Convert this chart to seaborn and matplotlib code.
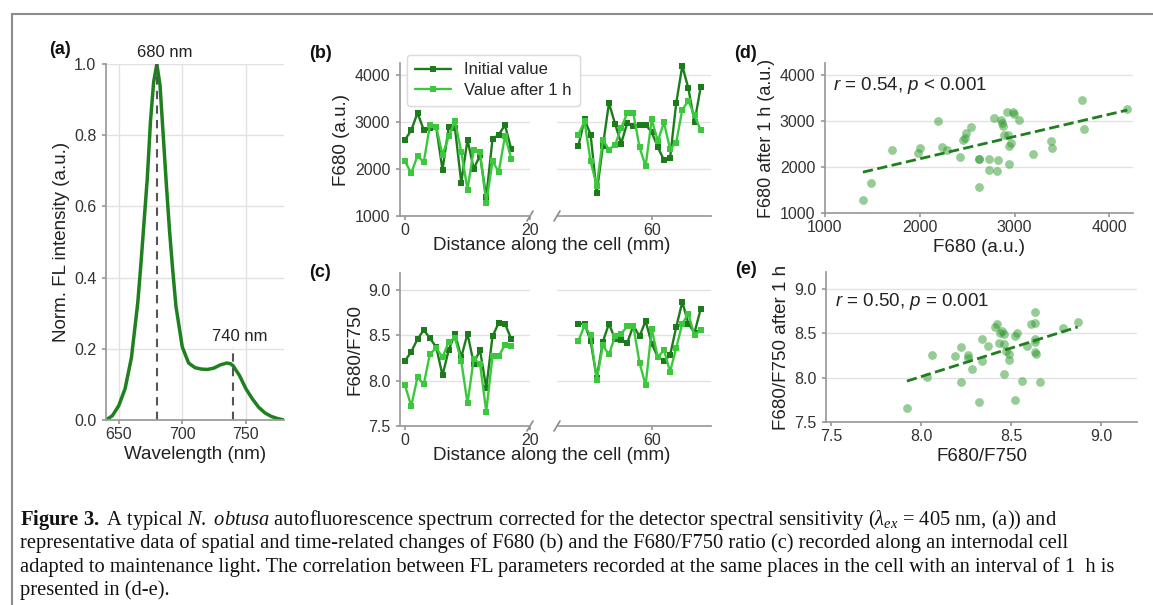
import numpy as np
import seaborn as sns
import matplotlib
matplotlib.use('Agg')
import matplotlib.pyplot as plt
from matplotlib.lines import Line2D

# (a) autofluorescence spectrum
wavelength = [640, 645, 650, 655, 660, 665, 667.5, 670, 672.5, 675, 677.5, 680,
              682.5, 685, 687.5, 690, 692.5, 695, 700, 705, 710, 715, 720, 725,
              730, 735, 738, 740, 745, 750, 755, 760, 765, 770, 775, 780]
intensity = [0.0, 0.012, 0.04, 0.088, 0.175, 0.33, 0.44, 0.56, 0.68, 0.84, 0.95, 1.0,
             0.94, 0.80, 0.66, 0.53, 0.42, 0.32, 0.205, 0.16, 0.147, 0.143, 0.142, 0.146,
             0.155, 0.160, 0.158, 0.152, 0.125, 0.088, 0.06, 0.036, 0.02, 0.01, 0.004, 0.0]

# (b) F680 along the cell
x_left = list(range(0, 18))
x_right = list(range(48, 69))
f680_init_left = [2620, 2820, 3190, 2830, 2870, 2880, 1980, 2890, 2860, 1710, 2620, 2000,
                  2290, 1400, 2630, 2730, 2930, 2420]
f680_after_left = [2160, 1910, 2280, 2140, 2940, 2890, 2300, 2690, 3010, 2370, 1560, 2410,
                   2360, 1280, 2160, 1940, 2700, 2220]
f680_init_right = [2490, 3050, 2730, 1490, 2480, 3400, 2960, 2540, 2980, 2920, 2940, 2940,
                   2780, 2460, 2190, 2230, 3390, 4190, 3710, 2990, 3730]
f680_after_right = [2730, 3010, 2160, 1640, 2620, 2410, 2510, 2870, 3190, 3180, 2460, 2060,
                    3050, 2590, 2990, 2420, 2560, 3260, 3440, 3140, 2820]

# (c) F680/F750 along the cell
ratio_init_left = [8.22, 8.32, 8.46, 8.56, 8.47, 8.37, 8.06, 8.34, 8.52, 8.26, 8.52, 8.19,
                   8.34, 7.92, 8.49, 8.64, 8.63, 8.46]
ratio_after_left = [7.95, 7.72, 8.04, 7.96, 8.30, 8.36, 8.26, 8.43, 8.47, 8.22, 7.75, 8.24,
                    8.19, 7.66, 8.27, 8.27, 8.40, 8.38]
ratio_init_right = [8.63, 8.63, 8.44, 8.03, 8.43, 8.63, 8.46, 8.45, 8.42, 8.61, 8.49, 8.66,
                    8.41, 8.26, 8.22, 8.28, 8.59, 8.87, 8.63, 8.53, 8.79]
ratio_after_right = [8.44, 8.61, 8.50, 8.01, 8.39, 8.29, 8.49, 8.52, 8.60, 8.60, 8.20, 7.95,
                     8.57, 8.26, 8.34, 8.10, 8.36, 8.63, 8.74, 8.50, 8.56]

series_labels = ['Initial value', 'Value after 1 h']

DARK = '#1c7c1c'
LIGHT = '#3cc83c'
SCAT = '#2f9a2f'

sns.set_theme(style='whitegrid')
plt.rcParams['font.family'] = ['Liberation Sans', 'DejaVu Sans']
plt.rcParams.update({
    'axes.edgecolor': '#9a9a9a',
    'grid.color': '#e2e2e2',
    'xtick.bottom': True,
    'ytick.left': True,
    'xtick.major.size': 3,
    'ytick.major.size': 3,
    'xtick.major.pad': 2,
    'ytick.major.pad': 4,
    'xtick.color': '#9a9a9a',
    'ytick.color': '#9a9a9a',
    'xtick.labelcolor': '#333333',
    'ytick.labelcolor': '#333333',
    'xtick.labelsize': 11.5,
    'ytick.labelsize': 11.5,
    'axes.labelsize': 13.5,
    'axes.labelpad': 3,
    'axes.labelcolor': '#222222',
    'mathtext.fontset': 'custom',
    'mathtext.rm': 'Liberation Serif',
    'mathtext.it': 'Liberation Serif:italic',
    'mathtext.bf': 'Liberation Serif:bold',
    'mathtext.sf': 'Liberation Sans:italic',
})

W, H = 1153, 605
fig = plt.figure(figsize=(W / 100, H / 100), dpi=100)


def add_ax(l, t, r, b):
    return fig.add_axes([l / W, 1 - b / H, (r - l) / W, (b - t) / H])


def clean(ax, left=True):
    ax.spines['top'].set_visible(False)
    ax.spines['right'].set_visible(False)
    if not left:
        ax.spines['left'].set_visible(False)
        ax.tick_params(axis='y', left=False, labelleft=False)


# ---- (a) spectrum
ax_a = add_ax(106, 64, 284, 420)
sns.lineplot(x=wavelength, y=intensity, ax=ax_a, color='#1e801e', lw=2.5)
ax_a.vlines(680, 0, 1.0, colors='#555555', linestyles=(0, (4, 3)), lw=1.5)
ax_a.vlines(740, 0, 0.206, colors='#555555', linestyles=(0, (4, 3)), lw=1.5)
ax_a.text(686, 1.012, '680 nm', ha='center', va='bottom', fontsize=12, color='#222222')
ax_a.text(745, 0.214, '740 nm', ha='center', va='bottom', fontsize=12, color='#222222')
ax_a.set_xlim(640, 780)
ax_a.set_ylim(0, 1.0)
ax_a.set_xticks([650, 700, 750])
ax_a.set_yticks([0.0, 0.2, 0.4, 0.6, 0.8, 1.0])
ax_a.set_xlabel('Wavelength (nm)')
ax_a.set_ylabel('Norm. FL intensity (a.u.)')
clean(ax_a)


# ---- (b), (c) broken-axis profiles
def broken_panel(top, bottom, init_l, after_l, init_r, after_r, ylim, yticks, ylabel, xlabel_y):
    ax_l = add_ax(400, top, 530, bottom)
    ax_r = add_ax(557, top, 711, bottom)
    ax_l.set_zorder(2)
    for ax, xs, y0, y1, lab in [(ax_l, x_left, init_l, after_l, True),
                                (ax_r, x_right, init_r, after_r, False)]:
        sns.lineplot(x=xs, y=y0, ax=ax, color=DARK, lw=1.7, marker='s', markersize=5,
                     markeredgewidth=0, label=series_labels[0] if lab else None)
        sns.lineplot(x=xs, y=y1, ax=ax, color=LIGHT, lw=1.7, marker='s', markersize=5,
                     markeredgewidth=0, label=series_labels[1] if lab else None)
        ax.set_ylim(*ylim)
        ax.set_yticks(yticks)
        ax.xaxis.grid(False)
    ax_l.set_xlim(-0.8, 20)
    ax_l.set_xticks([0, 20])
    ax_r.set_xlim(44.5, 69.7)
    ax_r.set_xticks([60])
    clean(ax_l)
    clean(ax_r, left=False)
    ax_l.set_ylabel(ylabel)
    # break marks
    kw = dict(color='#8a8a8a', lw=1.2, clip_on=False)
    hl = bottom - top
    ax_l.plot([1 - 3 / 130, 1 + 3 / 130], [-5 / hl, 5 / hl], transform=ax_l.transAxes, **kw)
    ax_r.plot([-3 / 154, 3 / 154], [-5 / hl, 5 / hl], transform=ax_r.transAxes, **kw)
    ax_l.legend(loc='upper left', bbox_to_anchor=(7 / 130, 1 + (top - 55) / hl),
                borderaxespad=0, fontsize=12, frameon=True, handlelength=2.2,
                labelspacing=0.35, borderpad=0.45, edgecolor='#dddddd', framealpha=1)
    fig.text(552 / W, 1 - xlabel_y / H, 'Distance along the cell (mm)', ha='center',
             va='center', fontsize=13.5, color='#222222')
    return ax_l, ax_r


broken_panel(63, 216, f680_init_left, f680_after_left, f680_init_right, f680_after_right,
             (1000, 4250), [1000, 2000, 3000, 4000], 'F680 (a.u.)', 245)
broken_panel(273, 426, ratio_init_left, ratio_after_left, ratio_init_right, ratio_after_right,
             (7.5, 9.19), [7.5, 8.0, 8.5, 9.0], 'F680/F750', 455)


# ---- (d), (e) correlations
def corr_panel(rect, x, y, xlim, ylim, ticks, xlabel, ylabel, note, note_pos):
    ax = add_ax(*rect)
    sns.regplot(x=x, y=y, ax=ax, ci=None,
                scatter_kws=dict(s=40, alpha=0.5, color=SCAT, linewidths=0),
                line_kws=dict(color='#1f7f1f', ls='--', lw=2))
    ax.set_xlim(*xlim)
    ax.set_ylim(*ylim)
    ax.set_xticks(ticks)
    ax.set_yticks(ticks)
    ax.xaxis.grid(False)
    ax.set_xlabel(xlabel)
    ax.set_ylabel(ylabel)
    ax.text(*note_pos, note, transform=ax.transAxes, ha='left', va='center',
            fontsize=13.5, color='#222222')
    clean(ax)
    return ax


ax_d = corr_panel((825, 63, 1133, 213), f680_init_left + f680_init_right,
                  f680_after_left + f680_after_right, (1000, 4250), (1000, 4250),
                  [1000, 2000, 3000, 4000], 'F680 (a.u.)', 'F680 after 1 h (a.u.)',
                  r'$\mathsf{r}$ = 0.54, $\mathsf{p}$ < 0.001', (0.027, 0.85))
ax_d.yaxis.label.set_size(13)
ax_e = corr_panel((826, 272, 1137, 422), ratio_init_left + ratio_init_right,
                  ratio_after_left + ratio_after_right, (7.47, 9.2), (7.5, 9.19),
                  [7.5, 8.0, 8.5, 9.0], 'F680/F750', 'F680/F750 after 1 h',
                  r'$\mathsf{r}$ = 0.50, $\mathsf{p}$ = 0.001', (0.03, 0.80))

# panel letters
for lab, px, py in [('(a)', 60, 50), ('(b)', 320, 53), ('(c)', 320, 273),
                    ('(d)', 746, 54), ('(e)', 746, 269)]:
    fig.text(px / W, 1 - py / H, lab, ha='center', va='center', fontsize=13,
             fontweight='bold', color='#111111')

# frame lines of the figure box
fig.add_artist(Line2D([12 / W, 1], [1 - 14 / H, 1 - 14 / H], transform=fig.transFigure,
                      color='#8c8c8c', lw=1.5))
fig.add_artist(Line2D([12 / W, 12 / W], [0, 1 - 14 / H], transform=fig.transFigure,
                      color='#8c8c8c', lw=1.5))

# caption
caption = [
    r'$\mathbf{Figure\ 3.}$ A typical $\mathit{N.\ obtusa}$ autofluorescence spectrum corrected '
    r'for the detector spectral sensitivity ($\lambda_{ex}$ = 405 nm, (a)) and',
    'representative data of spatial and time-related changes of F680 (b) and the F680/F750 '
    'ratio (c) recorded along an internodal cell',
    'adapted to maintenance light. The correlation between FL parameters recorded at the same '
    'places in the cell with an interval of 1  h is',
    'presented in (d-e).',
]
for i, line in enumerate(caption):
    fig.text(20 / W, 1 - (520 + 23.5 * i) / H, line, ha='left', va='center',
             fontsize=14.8, family='Liberation Serif', color='#111111')

fig.savefig('out.png', dpi=100)
